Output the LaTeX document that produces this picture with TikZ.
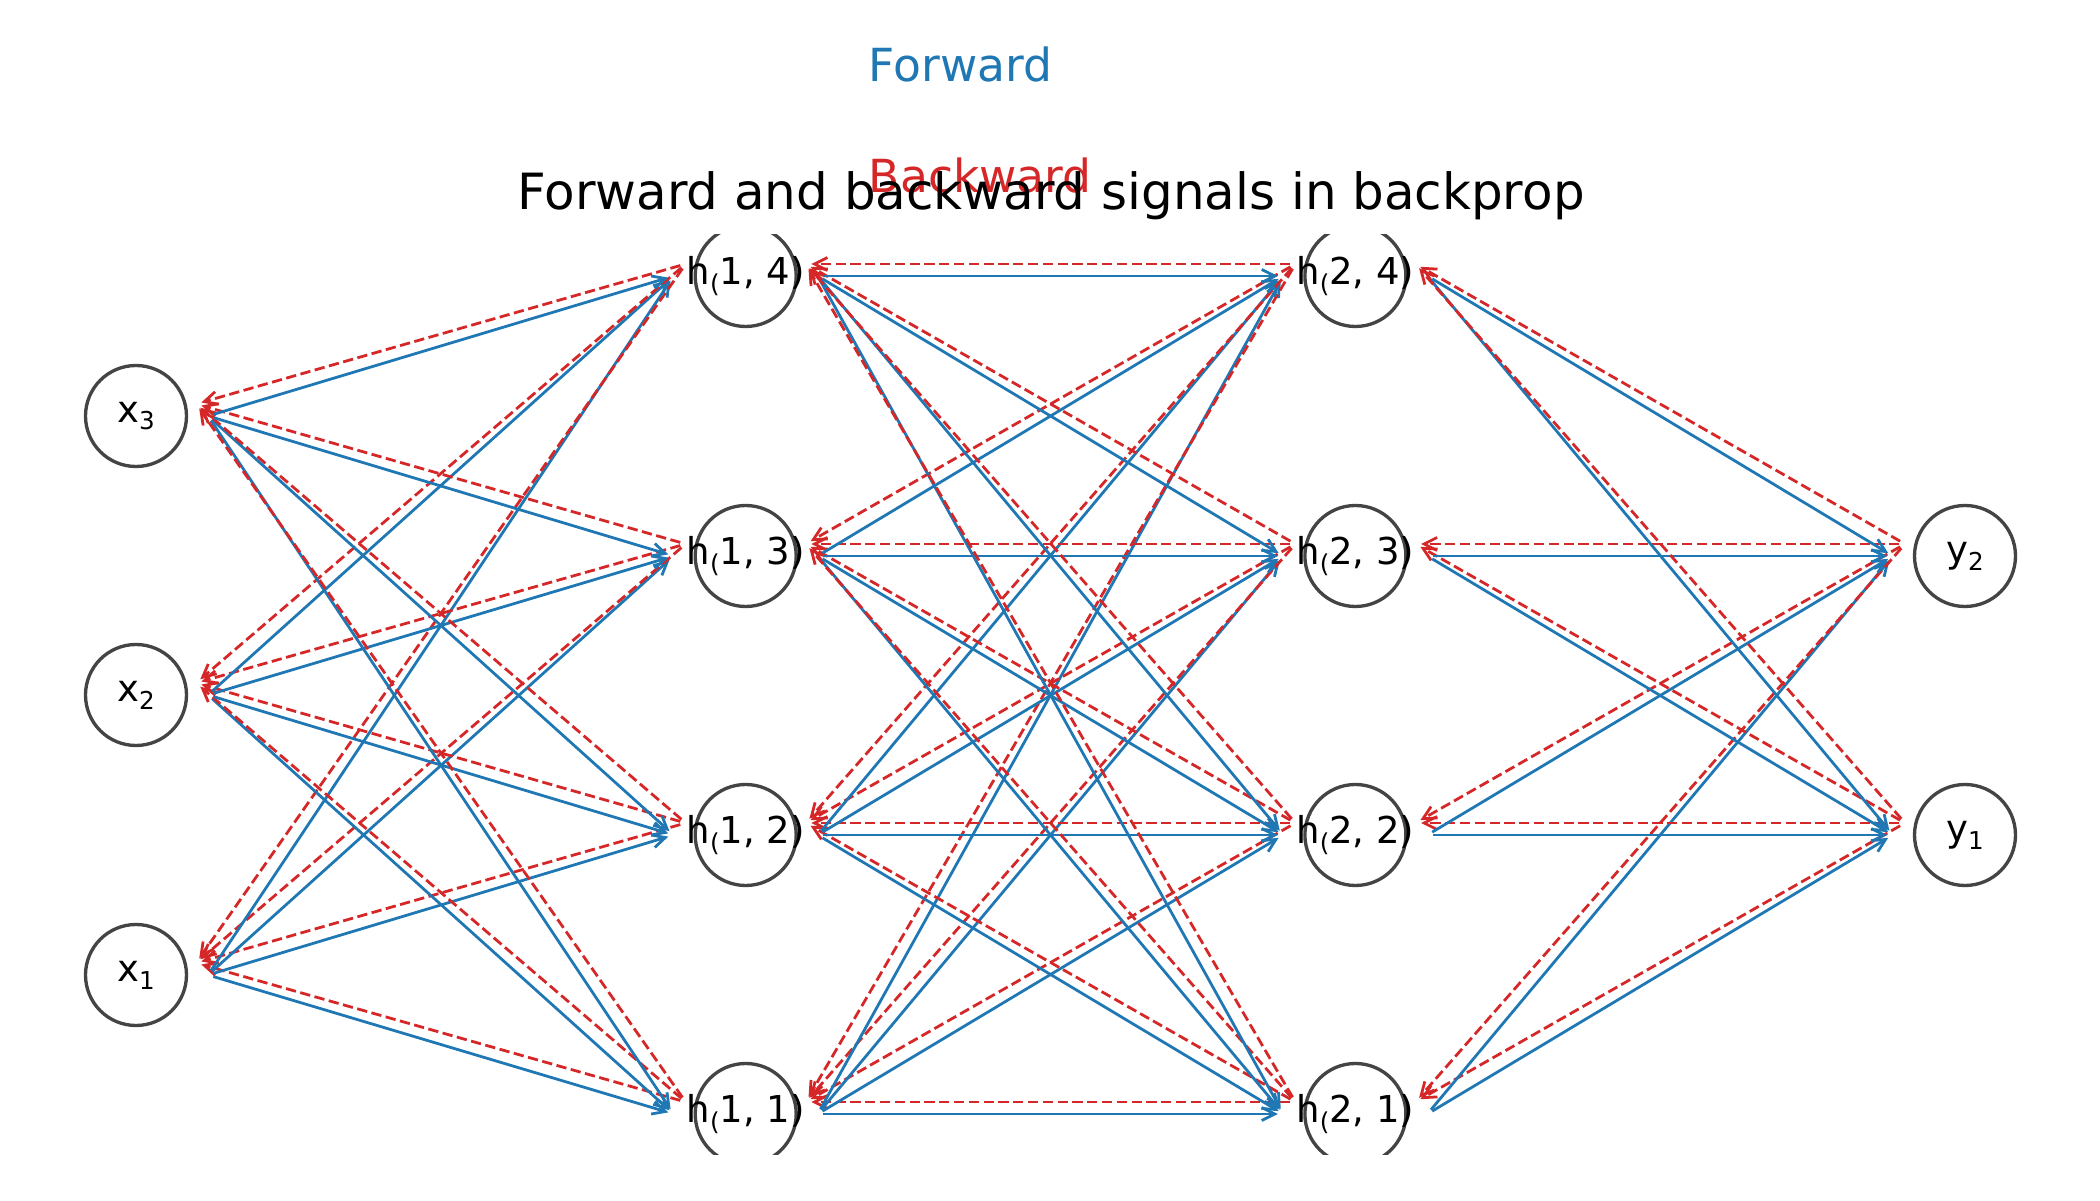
\documentclass[tikz,border=0pt]{standalone}
\usepackage{fontspec}
\setmainfont{DejaVu Sans}
\usetikzlibrary{arrows.meta,calc}

\definecolor{fwdblue}{HTML}{1F77B4}
\definecolor{bwdred}{HTML}{D62728}
\definecolor{ringgray}{HTML}{444444}

\newcommand{\lowsub}[1]{\raisebox{-3.9pt}{\fontsize{12.3pt}{13pt}\selectfont #1}}
\newcommand{\sendsignal}[2]{%
  \draw[fwd] ($(#1)+(72,0)$) -- ($(#2)+(-72,0)$);
  \draw[bwd] ($(#2)+(-60,12)$) -- ($(#1)+(60,12)$);
}

\begin{document}
\begin{tikzpicture}[
x=0.5pt, y=0.5pt,
neuron/.style={circle, draw=ringgray, line width=1.67pt, minimum size=50.5pt, inner sep=0pt, label distance=0pt, label={[inner sep=0pt, font=\fontsize{18.5pt}{20pt}\selectfont]center:#1}},
fwd/.style={fwdblue, line width=1.39pt, -{Straight Barb[length=6.5pt,width=6.5pt]}, shorten <=2.8pt, shorten >=2.8pt},
bwd/.style={bwdred, line width=1.39pt, dash pattern=on 5.15pt off 2.25pt, -{Straight Barb[length=6.5pt,width=6.5pt]}, shorten <=2.8pt, shorten >=2.8pt}
]
    \useasboundingbox (0,0) rectangle (2100,1200);

    \node [fwdblue, font=\fontsize{22.8pt}{25pt}\selectfont, anchor=base west, inner sep=0pt] (fwdkey) at (868.5,1118) {Forward};
    \node [bwdred, font=\fontsize{22.8pt}{25pt}\selectfont, anchor=base west, inner sep=0pt] (bwdkey) at (868.5,1007) {Backward};
    \node [font=\fontsize{24.97pt}{28pt}\selectfont, anchor=base, inner sep=0pt] (title) at (1051,990) {Forward and backward signals in backprop};

    \begin{scope}
    \clip (0,45) rectangle (2100,965);
    \node [neuron={x\lowsub{3}}] (x3) at (136,784) {};
    \node [neuron={x\lowsub{2}}] (x2) at (136,505) {};
    \node [neuron={x\lowsub{1}}] (x1) at (136,225) {};

    \node [neuron={h\lowsub{(}1, 4)}] (h14) at (745.7,924) {};
    \node [neuron={h\lowsub{(}1, 3)}] (h13) at (745.7,644) {};
    \node [neuron={h\lowsub{(}1, 2)}] (h12) at (745.7,365) {};
    \node [neuron={h\lowsub{(}1, 1)}] (h11) at (745.7,86) {};

    \node [neuron={h\lowsub{(}2, 4)}] (h24) at (1355.4,924) {};
    \node [neuron={h\lowsub{(}2, 3)}] (h23) at (1355.4,644) {};
    \node [neuron={h\lowsub{(}2, 2)}] (h22) at (1355.4,365) {};
    \node [neuron={h\lowsub{(}2, 1)}] (h21) at (1355.4,86) {};

    \node [neuron={y\lowsub{2}}] (y2) at (1965,644) {};
    \node [neuron={y\lowsub{1}}] (y1) at (1965,365) {};
    \end{scope}

    % inputs to first hidden layer
    \sendsignal{x1}{h11} \sendsignal{x1}{h12} \sendsignal{x1}{h13} \sendsignal{x1}{h14}
    \sendsignal{x2}{h11} \sendsignal{x2}{h12} \sendsignal{x2}{h13} \sendsignal{x2}{h14}
    \sendsignal{x3}{h11} \sendsignal{x3}{h12} \sendsignal{x3}{h13} \sendsignal{x3}{h14}

    % first to second hidden layer
    \sendsignal{h11}{h21} \sendsignal{h11}{h22} \sendsignal{h11}{h23} \sendsignal{h11}{h24}
    \sendsignal{h12}{h21} \sendsignal{h12}{h22} \sendsignal{h12}{h23} \sendsignal{h12}{h24}
    \sendsignal{h13}{h21} \sendsignal{h13}{h22} \sendsignal{h13}{h23} \sendsignal{h13}{h24}
    \sendsignal{h14}{h21} \sendsignal{h14}{h22} \sendsignal{h14}{h23} \sendsignal{h14}{h24}

    % second hidden layer to outputs
    \sendsignal{h21}{y1} \sendsignal{h21}{y2}
    \sendsignal{h22}{y1} \sendsignal{h22}{y2}
    \sendsignal{h23}{y1} \sendsignal{h23}{y2}
    \sendsignal{h24}{y1} \sendsignal{h24}{y2}

\end{tikzpicture}
\end{document}
